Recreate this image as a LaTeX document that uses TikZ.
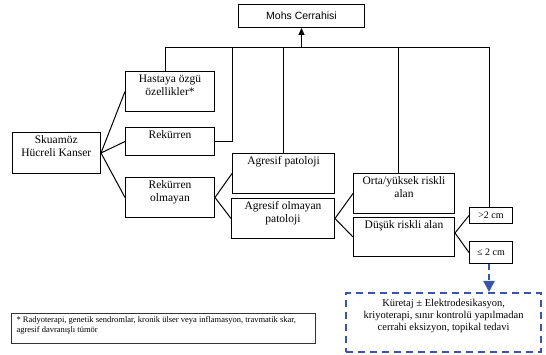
\documentclass[tikz,border=0pt]{standalone}
\usepackage{fontspec}
\setmainfont{Liberation Serif}
\newfontfamily\mohsfont{Liberation Sans}
\usetikzlibrary{arrows.meta}
\definecolor{kutumavi}{RGB}{58,84,170}

\tikzset{
	kutu/.style={draw, line width=1pt, anchor=north west, inner sep=0pt},
	yazi/.style={anchor=north, align=center, inner sep=0pt, yshift=-3pt, font=\fontsize{11.5}{13}\selectfont},
	kesik/.style={draw=kutumavi, line width=2.2pt, dash pattern=on 7pt off 5pt},
}

\begin{document}
\begin{tikzpicture}[x=1pt, y=-1pt, line width=1pt]
	\useasboundingbox (0,0) rectangle (546,355);
	\node[kutu, minimum width=126pt, minimum height=23pt, font=\mohsfont\fontsize{10.5}{12}\selectfont] (mohs) at (238,4) {Mohs Cerrahisi};
	\node[kutu, minimum width=88.5pt, minimum height=41pt, label={[yazi]north:{Skuamöz\\Hücreli Kanser}}] (skuamoz) at (11.5,132) {};
	\node[kutu, minimum width=89pt, minimum height=40pt, label={[yazi]north:{Hastaya özgü\\özellikler*}}] (hastaya) at (125,71) {};
	\node[kutu, minimum width=89pt, minimum height=28pt, label={[yazi]north:{Rekürren}}] (rekurren) at (125,127) {};
	\node[kutu, minimum width=89pt, minimum height=40pt, label={[yazi]north:{Rekürren\\olmayan}}] (rekol) at (125,177) {};
	\node[kutu, minimum width=102pt, minimum height=40pt, label={[yazi]north:{Agresif patoloji}}] (agpat) at (232,153) {};
	\node[kutu, minimum width=103pt, minimum height=40pt, label={[yazi]north:{Agresif olmayan\\patoloji}}] (agol) at (231,198) {};
	\node[kutu, minimum width=101pt, minimum height=40pt, label={[yazi]north:{Orta/yüksek riskli\\alan}}] (orta) at (353,173) {};
	\node[kutu, minimum width=101pt, minimum height=39pt, label={[yazi]north:{Düşük riskli alan}}] (dusuk) at (353,217) {};
	\node[kutu, minimum width=43pt, minimum height=16pt, font=\fontsize{10}{12}\selectfont] (buyuk) at (469,207) {>2 cm};
	\node[kutu, minimum width=43pt, minimum height=22pt, font=\fontsize{10}{12}\selectfont] (kucuk) at (469,241) {≤ 2 cm};
	\node[kutu, kesik, minimum width=195pt, minimum height=59pt, label={[yazi, yshift=-4pt, font=\fontsize{10.5}{12}\selectfont]north:{Küretaj ± Elektrodesikasyon,\\kriyoterapi, sınır kontrolü yapılmadan\\cerrahi eksizyon, topikal tedavi}}] (kuretaj) at (345,292) {};
	\node[kutu, draw=black!80, minimum width=304pt, minimum height=30pt, label={[anchor=north west, align=left, inner sep=0pt, xshift=5pt, yshift=-3pt, font=\fontsize{8.5}{10}\selectfont]north west:{* Radyoterapi, genetik sendromlar, kronik ülser veya inflamasyon, travmatik skar,\\agresif davranışlı tümör}}] (dipnot) at (11,313) {};

	\coordinate (bus) at (0,48);
	\draw ([xshift=-4.5pt]hastaya.north) -- ([xshift=-4.5pt]hastaya.north |- bus) -- ([xshift=-2pt]buyuk.north |- bus) -- ([xshift=-2pt]buyuk.north);
	\draw (rekurren.east) -| (agpat.west |- bus);
	\draw (agpat.north) -- (agpat.north |- bus);
	\draw ([xshift=-6pt]orta.north) -- ([xshift=-6pt]orta.north |- bus);
	\draw[-{Triangle[length=7pt,width=6pt]}] (mohs.south |- bus) -- (mohs.south);

	\draw (skuamoz.east) -- (hastaya.west);
	\draw (skuamoz.east) -- (rekurren.west);
	\draw (skuamoz.east) -- (rekol.west);
	\draw (rekol.east) -- (agpat.west);
	\draw (rekol.east) -- (agol.west);
	\draw (agol.east) -- (orta.west);
	\draw (agol.east) -- (dusuk.west);
	\draw ([yshift=4pt]dusuk.east) -- (buyuk.west);
	\draw ([yshift=4pt]dusuk.east) -- (kucuk.west);

	\draw[kutumavi, line width=2.2pt, dash pattern=on 6pt off 4pt, -{Triangle[length=11pt,width=11pt]}] ([xshift=-2pt]kucuk.south) -- ([xshift=-2pt]kucuk.south |- kuretaj.north);
\end{tikzpicture}
\end{document}
